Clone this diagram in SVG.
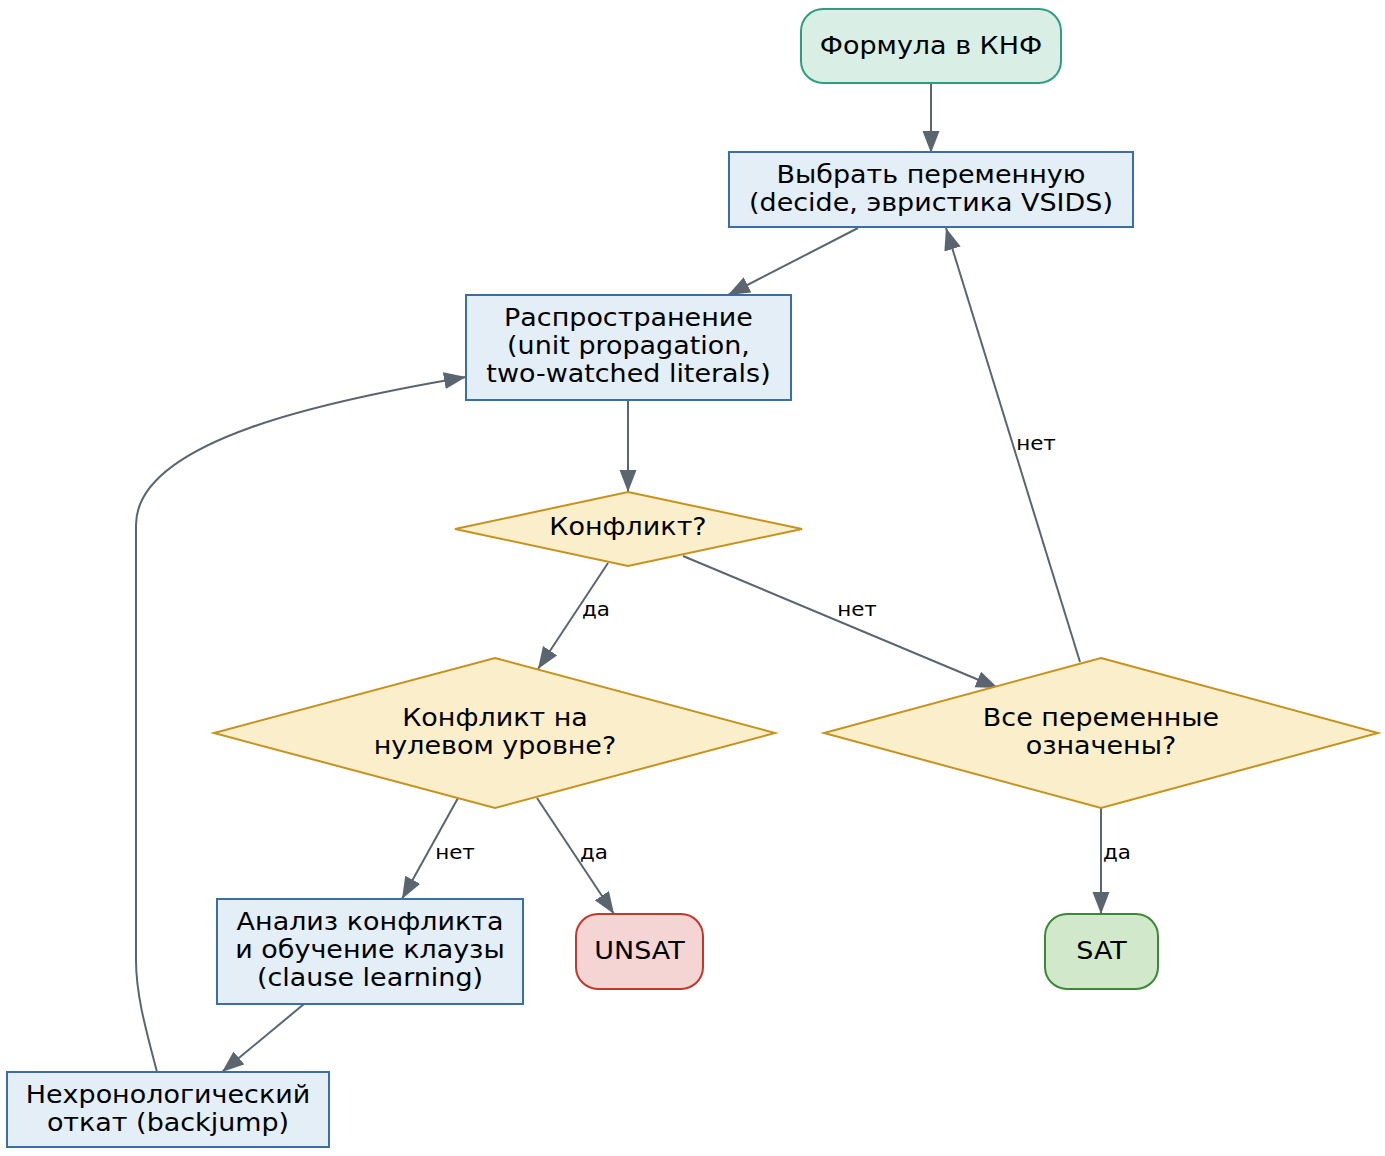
<svg xmlns="http://www.w3.org/2000/svg" width="1385" height="1156" viewBox="0 0 1385 1156">
<defs>
<marker id="arr" markerUnits="userSpaceOnUse" markerWidth="24" markerHeight="18" refX="22" refY="8.5" orient="auto">
<path d="M0,0 L22,8.5 L0,17 Z" fill="#5a6570"/>
</marker>
<style>
text{transform-box:fill-box;transform-origin:center;transform:scaleX(1.1)}
.t{font-family:"DejaVu Sans",sans-serif;font-size:24.5px;fill:#000;text-anchor:middle}
.l{font-family:"DejaVu Sans",sans-serif;font-size:19.5px;fill:#000;text-anchor:middle}
.proc{fill:#e3eef7;stroke:#3a6ea5;stroke-width:2}
.dec{fill:#fbeecb;stroke:#c7921c;stroke-width:2}
.e{fill:none;stroke:#5a6570;stroke-width:2;marker-end:url(#arr)}
</style>
</defs>
<g id="edges">
<path class="e" d="M931,83 L931,153"/>
<path class="e" d="M858,228 L728,295"/>
<path class="e" d="M628,400 L628,492"/>
<path class="e" d="M608,563 L538,669"/>
<path class="e" d="M683,556 L998,688"/>
<path class="e" d="M1080,662 L946,228"/>
<path class="e" d="M458,798 L402,899"/>
<path class="e" d="M537,798 L614,914"/>
<path class="e" d="M1101,808 L1101,914"/>
<path class="e" d="M304,1004 L222,1072"/>
<path class="e" d="M157,1072 C146,1030 136,995 136,960 L136,525 C136,440 330,400 466,377"/>
<text class="l" x="596" y="616">да</text>
<text class="l" x="857" y="616">нет</text>
<text class="l" x="1036" y="450">нет</text>
<text class="l" x="455" y="859">нет</text>
<text class="l" x="594" y="859">да</text>
<text class="l" x="1117" y="859">да</text>
</g>
<g id="n1"><rect x="801" y="9" width="260" height="74" rx="22" fill="#d9efe5" stroke="#2e9e7e" stroke-width="2"/><text class="t" x="931" y="54">Формула в КНФ</text></g>
<g id="n2"><rect class="proc" x="729" y="152" width="404" height="75"/><text class="t" x="931" y="183">Выбрать переменную</text><text class="t" x="931" y="211">(decide, эвристика VSIDS)</text></g>
<g id="n3"><rect class="proc" x="466" y="295" width="325" height="105"/><text class="t" x="628.5" y="326">Распространение</text><text class="t" x="628.5" y="354">(unit propagation,</text><text class="t" x="628.5" y="382">two-watched literals)</text></g>
<g id="n4"><polygon class="dec" points="628,492 802,529 628,566 455,529"/><text class="t" x="628" y="535">Конфликт?</text></g>
<g id="n5"><polygon class="dec" points="495,658 775,733 495,808 214,733"/><text class="t" x="495" y="726">Конфликт на</text><text class="t" x="495" y="754">нулевом уровне?</text></g>
<g id="n6"><polygon class="dec" points="1101,658 1378,733 1101,808 824,733"/><text class="t" x="1101" y="726">Все переменные</text><text class="t" x="1101" y="754">означены?</text></g>
<g id="n7"><rect class="proc" x="217" y="899" width="306" height="105"/><text class="t" x="370" y="930">Анализ конфликта</text><text class="t" x="370" y="958">и обучение клаузы</text><text class="t" x="370" y="986">(clause learning)</text></g>
<g id="n8"><rect x="576" y="914" width="127" height="75" rx="22" fill="#f5d5d3" stroke="#c0392b" stroke-width="2"/><text class="t" x="639.5" y="959">UNSAT</text></g>
<g id="n9"><rect x="1045" y="914" width="113" height="75" rx="22" fill="#d1e8ca" stroke="#3a8a35" stroke-width="2"/><text class="t" x="1101.5" y="959">SAT</text></g>
<g id="n10"><rect class="proc" x="7" y="1072" width="322" height="75"/><text class="t" x="168" y="1103">Нехронологический</text><text class="t" x="168" y="1131">откат (backjump)</text></g>
</svg>
